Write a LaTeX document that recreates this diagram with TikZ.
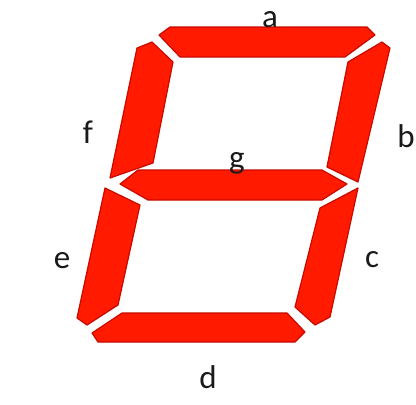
\documentclass[tikz,border=0pt]{standalone}
\usepackage{fontspec}
\setmainfont{Carlito}
\usetikzlibrary{positioning}
\definecolor{SegRed}{HTML}{FF1A00}
\definecolor{SegEdge}{HTML}{C80A00}
\definecolor{Ink}{HTML}{1A1A1A}

\begin{document}
\begin{tikzpicture}[x=1pt,y=-1pt, seg/.style={fill=SegRed,draw=SegEdge,line width=1.2pt,line join=round}, lbl/.style={anchor=base,text=Ink,inner sep=0pt,font=\fontsize{33}{33}\selectfont}]
\useasboundingbox[fill=white] (0,0) rectangle (416,405);
% segments
\draw[seg] (170,27)--(367,27)--(375,35)--(345,57)--(180,57)--(159,35)--cycle;
\draw[seg] (382,42)--(390,48)--(358,182)--(327,167)--(348,62)--cycle;
\draw[seg] (137,48)--(152,42)--(173,62)--(153,163)--(110,178)--cycle;
\draw[seg] (120,184)--(138,170)--(322,170)--(347,184)--(322,200)--(148,200)--cycle;
\draw[seg] (105,188)--(140,205)--(118,305)--(87,325)--(77,318)--cycle;
\draw[seg] (358,188)--(330,317)--(315,325)--(295,307)--(320,208)--cycle;
\draw[seg] (122,313)--(287,313)--(305,332)--(295,342)--(98,342)--(92,333)--cycle;
% labels
\node[lbl] (la) at (270,27) {a};
\node[lbl] (lb) at (406,147) {b};
\node[lbl] (lc) at (372,267) {c};
\node[lbl] (ld) at (208,388) {d};
\node[lbl] (le) at (62,268) {e};
\node[lbl] (lf) at (88,143) {f};
\node[lbl] (lg) at (237,168) {g};
\end{tikzpicture}
\end{document}
